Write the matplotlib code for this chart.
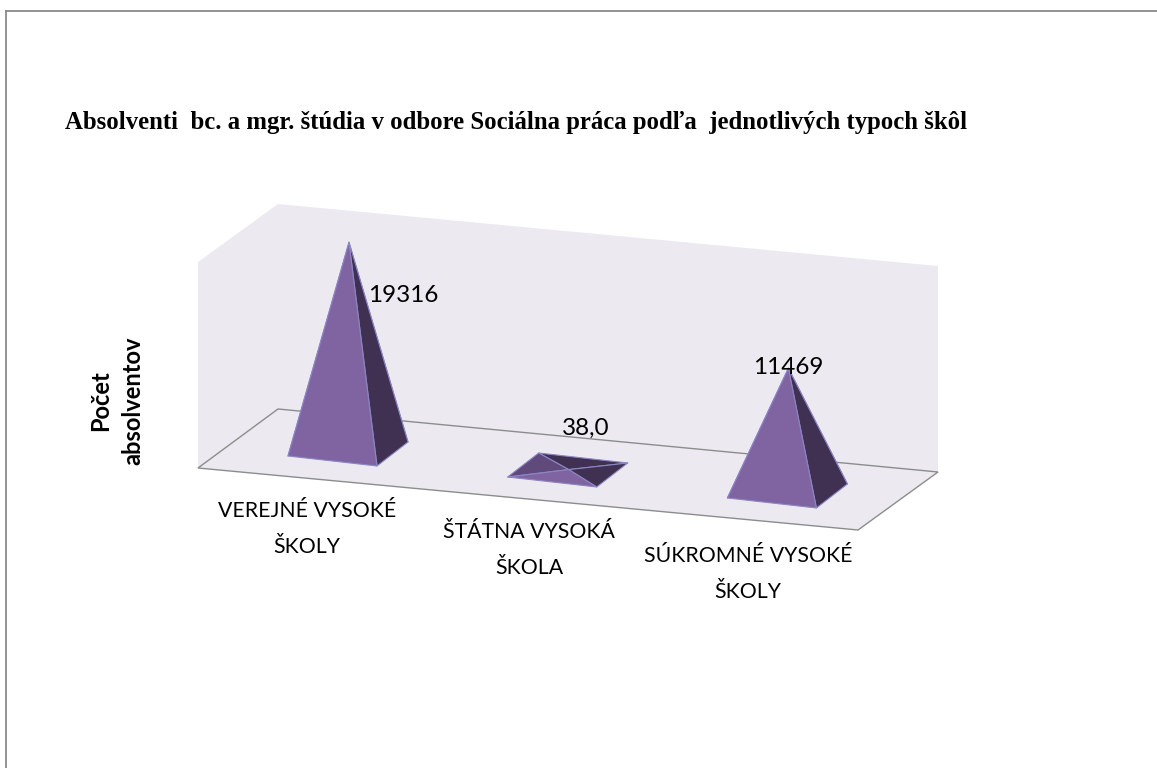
import matplotlib
matplotlib.use("Agg")
import matplotlib.pyplot as plt
from matplotlib.patches import Polygon

W, H = 1157, 768

title = "Absolventi  bc. a mgr. štúdia v odbore Sociálna práca podľa  jednotlivých typoch škôl"
categories = ["VEREJNÉ VYSOKÉ\nŠKOLY", "ŠTÁTNA VYSOKÁ\nŠKOLA", "SÚKROMNÉ VYSOKÉ\nŠKOLY"]
values = [19316, 38, 11469]
value_labels = ["19316", "38,0", "11469"]
y_title = "Počet\nabsolventov"

WALL = "#ECEAF0"
LINE = "#8c8c8c"
LIGHT = "#8064A2"
MID = "#604A7B"
DARK = "#403152"
EDGE = "#8C86C4"

# oblique projection of the 3d box, in image pixels
PX_PER_UNIT = 0.0107
BASE_X0, BASE_Y0 = 348, 449
STEP_X, STEP_Y = 219.7, 21
HALF_W = (44.5, 5)
HALF_D = (15.5, -12)

fig = plt.figure(figsize=(W / 100, H / 100), dpi=100)
ax = fig.add_axes([0, 0, 1, 1])
ax.set_xlim(0, W)
ax.set_ylim(H, 0)
ax.axis("off")

# frame
ax.plot([5.5, 5.5], [10.5, H], color="#8a8a8a", lw=1.3)
ax.plot([5.5, W], [10.5, 10.5], color="#8a8a8a", lw=1.3)

# walls and floor
ax.add_patch(Polygon([(198, 262), (278, 204), (278, 409), (198, 468)], fc=WALL, ec="none"))
ax.add_patch(Polygon([(278, 204), (938, 266), (938, 472), (278, 409)], fc=WALL, ec="none"))
ax.add_patch(Polygon([(198, 468), (278, 409), (938, 472), (858, 530)], fc=WALL, ec=LINE, lw=1))


def draw_pyramid(i, value):
    cx = BASE_X0 + i * STEP_X
    cy = BASE_Y0 + i * STEP_Y
    wx, wy = HALF_W
    dx, dy = HALF_D
    fl = (cx - wx - dx, cy - wy - dy)
    fr = (cx + wx - dx, cy + wy - dy)
    br = (cx + wx + dx, cy + wy + dy)
    bl = (cx - wx + dx, cy - wy + dy)
    apex = (cx + 1, cy - value * PX_PER_UNIT)
    faces = [((bl, br, apex), DARK), ((fl, bl, apex), MID), ((fr, br, apex), DARK), ((fl, fr, apex), LIGHT)]
    for pts, color in faces:
        ax.add_patch(Polygon(pts, fc=color, ec=EDGE, lw=0.8, joinstyle="round"))
    return apex


label_offset = [(54, 53), (17, -41), (0, -1)]
for i, v in enumerate(values):
    apex = draw_pyramid(i, v)
    ax.text(apex[0] + label_offset[i][0], apex[1] + label_offset[i][1], value_labels[i],
            family="Lato", fontsize=17.5, ha="center", va="center", color="black")

# category labels
cat_x = [307, 529, 748]
cat_y = [529, 550, 574]
for x, y, name in zip(cat_x, cat_y, categories):
    ax.text(x, y, name, family="Lato", fontsize=15.3, ha="center", va="center",
            color="black", linespacing=1.95)

ax.text(117, 401, y_title, family="Lato", fontweight="bold", fontsize=17, rotation=90,
        ha="center", va="center", multialignment="center", linespacing=1.5)
ax.text(65, 122, title, family="Liberation Serif", fontweight="bold", fontsize=17.8,
        ha="left", va="center", color="black")

fig.savefig("out.png", dpi=100)
